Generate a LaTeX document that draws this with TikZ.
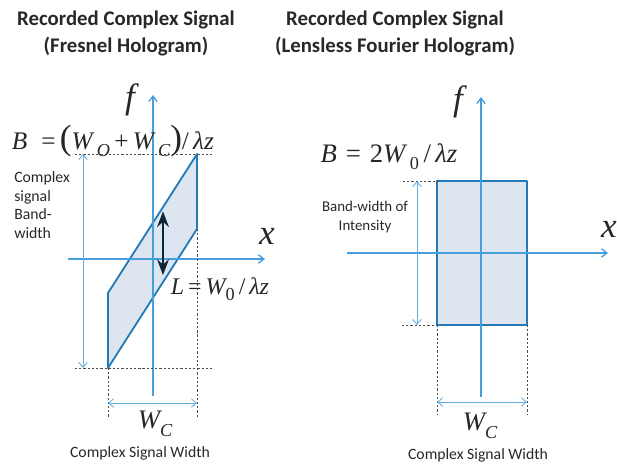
\documentclass[tikz,border=0pt]{standalone}
\usepackage{fontspec}
\setmainfont{Carlito}
\newfontfamily\eqfont{Liberation Serif}
\usepackage{tikz}
\usetikzlibrary{arrows.meta,calc}
\usetikzlibrary{positioning}
\definecolor{axisblue}{RGB}{70,158,220}
\definecolor{edgeblue}{RGB}{36,122,182}
\definecolor{bandfill}{RGB}{221,230,240}
\definecolor{arrownavy}{RGB}{14,38,58}
\definecolor{textgray}{RGB}{40,40,40}
\newcommand{\ev}[1]{{\itshape #1}}
\newcommand{\lowsub}[1]{\raisebox{-0.6ex}{\fontsize{13}{13}\selectfont\itshape #1}}
\newcommand{\bigpar}[1]{{\fontsize{25}{25}\selectfont #1}}

\begin{document}
\begin{tikzpicture}[x=0.025cm,y=-0.025cm,>=Stealth,line join=round,
  axis/.style={-{Straight Barb[length=4pt,width=6pt]},axisblue,line width=0.9pt},
  dim/.style={{Straight Barb[length=3.5pt,width=6pt]}-{Straight Barb[length=3.5pt,width=6pt]},axisblue!85,line width=0.6pt},
  guide/.style={black!70,dash pattern=on 1.6pt off 1.4pt,line width=0.45pt},
  band/.style={edgeblue,line width=1.3pt,fill=bandfill},
  title/.style={font=\fontsize{14.8}{19.2}\selectfont\bfseries,text=textgray,align=center},
  note/.style={font=\fontsize{11.2}{13.4}\selectfont,text=textgray,inner sep=0pt},
  sym/.style={font=\eqfont\fontsize{19}{19}\selectfont,text=black!85,inner sep=0pt},
  axlabel/.style={font=\eqfont\itshape\fontsize{25}{25}\selectfont,text=black!85,inner sep=0pt}]
\useasboundingbox (0,0) rectangle (617,466);
% --- titles
\node[title] (tleft) at (126,33) {Recorded Complex Signal\\(Fresnel Hologram)};
\node[title] (tright) at (395,33) {Recorded Complex Signal\\(Lensless Fourier Hologram)};
% --- left: Fresnel hologram band
\coordinate (pa) at (108,368); \coordinate (pb) at (108,293);
\coordinate (pc) at (197,154); \coordinate (pd) at (197,229);
\draw[band] (pa) -- (pb) -- (pc) -- (pd) -- cycle;
\coordinate (fbotL) at (153,396); \coordinate (ftopL) at (153,95);
\coordinate (xbegL) at (68,259); \coordinate (xendL) at (265,259);
\draw[axis] (fbotL) -- (ftopL);
\draw[axis] (xbegL) -- (xendL);
\node[axlabel] (fL) at (130,100) {f};
\node[axlabel] (xL) at (267,236) {x};
% guides
\coordinate (gtl) at (75,154); \coordinate (gtr) at (212,154);
\coordinate (gbl) at (75,368); \coordinate (gbr) at (213,368);
\coordinate (gla) at (108,417); \coordinate (gra) at (197,417);
\draw[guide] (gtl) -- (gtr) (gbl) -- (gbr) (pa) -- (gla) (pd) -- (gra);
% band-width and width arrows
\coordinate (btL) at (83,154); \coordinate (bbL) at (83,368);
\draw[dim] (btL) -- (bbL);
\coordinate (wlL) at (108,403); \coordinate (wrL) at (197,403);
\draw[dim] (wlL) -- (wrL);
% L arrow between the edges
\coordinate (lt) at ($(pb)!0.618!(pc)$); \coordinate (lb) at ($(pa)!0.618!(pd)$);
\draw[<->,arrownavy,line width=1.8pt,shorten <=3pt,shorten >=5pt] (lt) -- (lb);
% labels
\node[sym,font=\eqfont\fontsize{18}{18}\selectfont] (eqBL) at (113,141) {\ev{B}\hspace{0.55em}=\,\bigpar{(}\ev{W}\,\lowsub{O}\,+\,\ev{W}\,\lowsub{C}\bigpar{)}/\,\ev{λz}};
\node[sym,font=\eqfont\fontsize{17}{17}\selectfont] (eqL) at (220,289) {\ev{L}\,=\,\ev{W}\lowsub{\upshape 0}\,/\,\ev{λz}};
\node[note,anchor=north west,align=left] (bwL) at (14,171) {Complex\\signal\\Band-\\width};
\node[sym] (wcL) at (155,424) {\ev{W}\lowsub{C}};
\node[note] (cswL) at (140,453) {Complex Signal Width};
% --- right: lensless Fourier hologram band
\coordinate (ra) at (437,181); \coordinate (rb) at (527,325);
\draw[band] (ra) rectangle (rb);
\coordinate (fbotR) at (481,397); \coordinate (ftopR) at (481,97);
\coordinate (xbegR) at (347,253); \coordinate (xendR) at (608,253);
\draw[axis] (fbotR) -- (ftopR);
\draw[axis] (xbegR) -- (xendR);
\node[axlabel] (fR) at (458,102) {f};
\node[axlabel] (xR) at (609,229) {x};
% guides
\coordinate (htl) at (403,181); \coordinate (hbl) at (402,325);
\coordinate (rc) at (437,325); \coordinate (rd) at (527,325);
\coordinate (hla) at (437,415); \coordinate (hra) at (527,415);
\draw[guide] (htl) -- (ra) (hbl) -- (rc) (rc) -- (hla) (rd) -- (hra);
% arrows
\coordinate (btR) at (417,181); \coordinate (bbR) at (417,325);
\draw[dim] (btR) -- (bbR);
\coordinate (wlR) at (437,402); \coordinate (wrR) at (527,402);
\draw[dim] (wlR) -- (wrR);
% labels
\node[sym] (eqBR) at (389,157) {\ev{B}\,\,=\,\,2\ev{W}\,\lowsub{\upshape 0}\,/\,\ev{λz}};
\node[note,align=center,font=\fontsize{10.6}{13.6}\selectfont] (bwR) at (365,217) {Band-width of\\Intensity};
\node[sym] (wcR) at (480,426) {\ev{W}\lowsub{C}};
\node[note] (cswR) at (478,455) {Complex Signal Width};
\end{tikzpicture}
\end{document}
